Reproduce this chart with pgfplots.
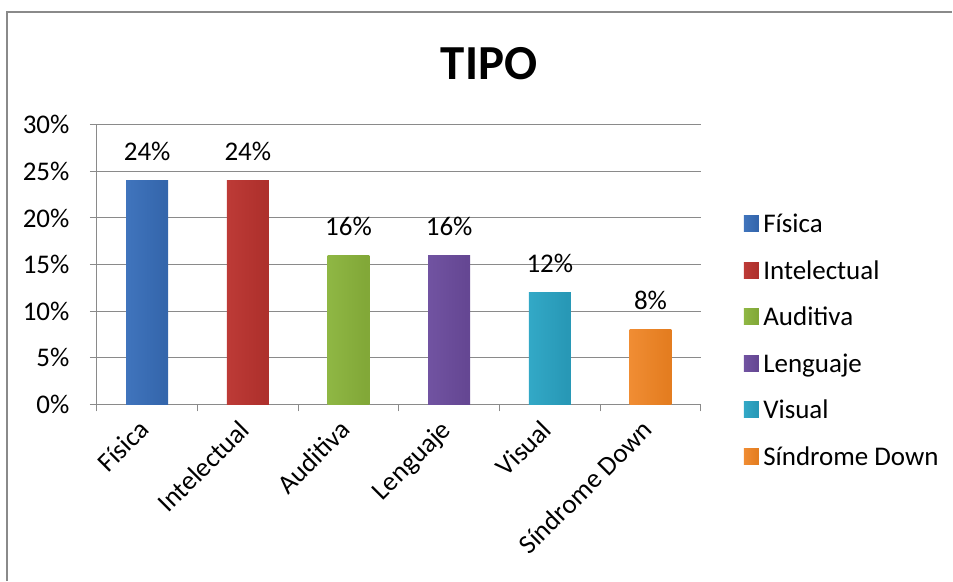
\documentclass[border=0pt]{standalone}
\usepackage{pgfplots}
\pgfplotsset{compat=1.18}
\usepackage{fontspec}
\setmainfont{Carlito}
\definecolor{gridc}{HTML}{8A8A8A}
\definecolor{bD}{HTML}{254E86}\definecolor{bL}{HTML}{4479C2}\definecolor{bM}{HTML}{3466AC}
\definecolor{rD}{HTML}{7E201D}\definecolor{rL}{HTML}{C23E3A}\definecolor{rM}{HTML}{AE302C}
\definecolor{gD}{HTML}{607E29}\definecolor{gL}{HTML}{93BC48}\definecolor{gM}{HTML}{82A838}
\definecolor{pD}{HTML}{48326C}\definecolor{pL}{HTML}{7557A6}\definecolor{pM}{HTML}{654793}
\definecolor{cD}{HTML}{1C7088}\definecolor{cL}{HTML}{36AECC}\definecolor{cM}{HTML}{2898B6}
\definecolor{oD}{HTML}{AE5C17}\definecolor{oL}{HTML}{F4923A}\definecolor{oM}{HTML}{E47D20}
\pgfdeclarehorizontalshading{bS}{100bp}{color(0bp)=(bD); color(10bp)=(bL); color(70bp)=(bM); color(88bp)=(bM); color(100bp)=(bD)}
\pgfdeclarehorizontalshading{rS}{100bp}{color(0bp)=(rD); color(10bp)=(rL); color(70bp)=(rM); color(88bp)=(rM); color(100bp)=(rD)}
\pgfdeclarehorizontalshading{gS}{100bp}{color(0bp)=(gD); color(10bp)=(gL); color(70bp)=(gM); color(88bp)=(gM); color(100bp)=(gD)}
\pgfdeclarehorizontalshading{pS}{100bp}{color(0bp)=(pD); color(10bp)=(pL); color(70bp)=(pM); color(88bp)=(pM); color(100bp)=(pD)}
\pgfdeclarehorizontalshading{cS}{100bp}{color(0bp)=(cD); color(10bp)=(cL); color(70bp)=(cM); color(88bp)=(cM); color(100bp)=(cD)}
\pgfdeclarehorizontalshading{oS}{100bp}{color(0bp)=(oD); color(10bp)=(oL); color(70bp)=(oM); color(88bp)=(oM); color(100bp)=(oD)}
\begin{document}
\begin{tikzpicture}
\path (-97pt,-176pt) rectangle (856pt,405pt);
\draw[gridc, line width=1.2pt] (-90pt,-177pt) -- (-90pt,393pt) -- (857pt,393pt);
\node[anchor=base, font=\fontsize{49}{52}\selectfont\bfseries, inner sep=0pt] at (393pt,325pt) {TIPO};
\begin{axis}[
  at={(0pt,0pt)}, anchor=south west,
  scale only axis, width=605pt, height=280pt,
  xmin=-0.5, xmax=5.5, ymin=0, ymax=30,
  axis x line*=bottom, axis y line*=left,
  axis line style={gridc, line width=1pt},
  every axis plot/.append style={draw=none},
  ytick={0,5,...,30},
  yticklabel={\pgfmathprintnumber{\tick}\%},
  /pgf/number format/assume math mode=true,
  ymajorgrids, major grid style={gridc, line width=1pt},
  tick align=outside, major tick length=7pt, minor tick length=7pt,
  tick style={gridc, line width=1pt},
  xtick={0,...,5},
  xticklabels={Física,Intelectual,Auditiva,Lenguaje,Visual,Síndrome Down},
  major x tick style={draw=none},
  minor xtick={-0.5,0.5,...,5.5},
  ticklabel style={font=\fontsize{27}{32}\selectfont},
  yticklabel style={xshift=-17pt},
  xticklabel style={xshift=-10pt, yshift=-4pt, rotate=45, anchor=north east, inner sep=2pt},
  ybar, bar width=42pt, bar shift=0pt,
  nodes near coords={\pgfmathprintnumber{\pgfplotspointmeta}\%},
  nodes near coords style={font=\fontsize{27}{32}\selectfont, text=black, inner sep=0pt, anchor=base, yshift=20pt},
  legend style={at={(1.066,0.219)}, anchor=west, draw=none, fill=none,
    font=\fontsize{27}{32}\selectfont, row sep=20.6pt,
    nodes={inner sep=0pt, text height=19pt, text depth=7pt}},
  legend cell align=left,
  legend image code/.code={\fill[#1] (0pt,-5pt) rectangle (15pt,11pt);},
]
\addplot[shading=bS, shade] coordinates {(0,24)};
\addplot[shading=rS, shade] coordinates {(1,24)};
\addplot[shading=gS, shade] coordinates {(2,16)};
\addplot[shading=pS, shade] coordinates {(3,16)};
\addplot[shading=cS, shade] coordinates {(4,12)};
\addplot[shading=oS, shade] coordinates {(5,8)};
\legend{\,Física,\,Intelectual,\,Auditiva,\,Lenguaje,\,Visual,\,Síndrome Down}
\end{axis}
\end{tikzpicture}
\end{document}
